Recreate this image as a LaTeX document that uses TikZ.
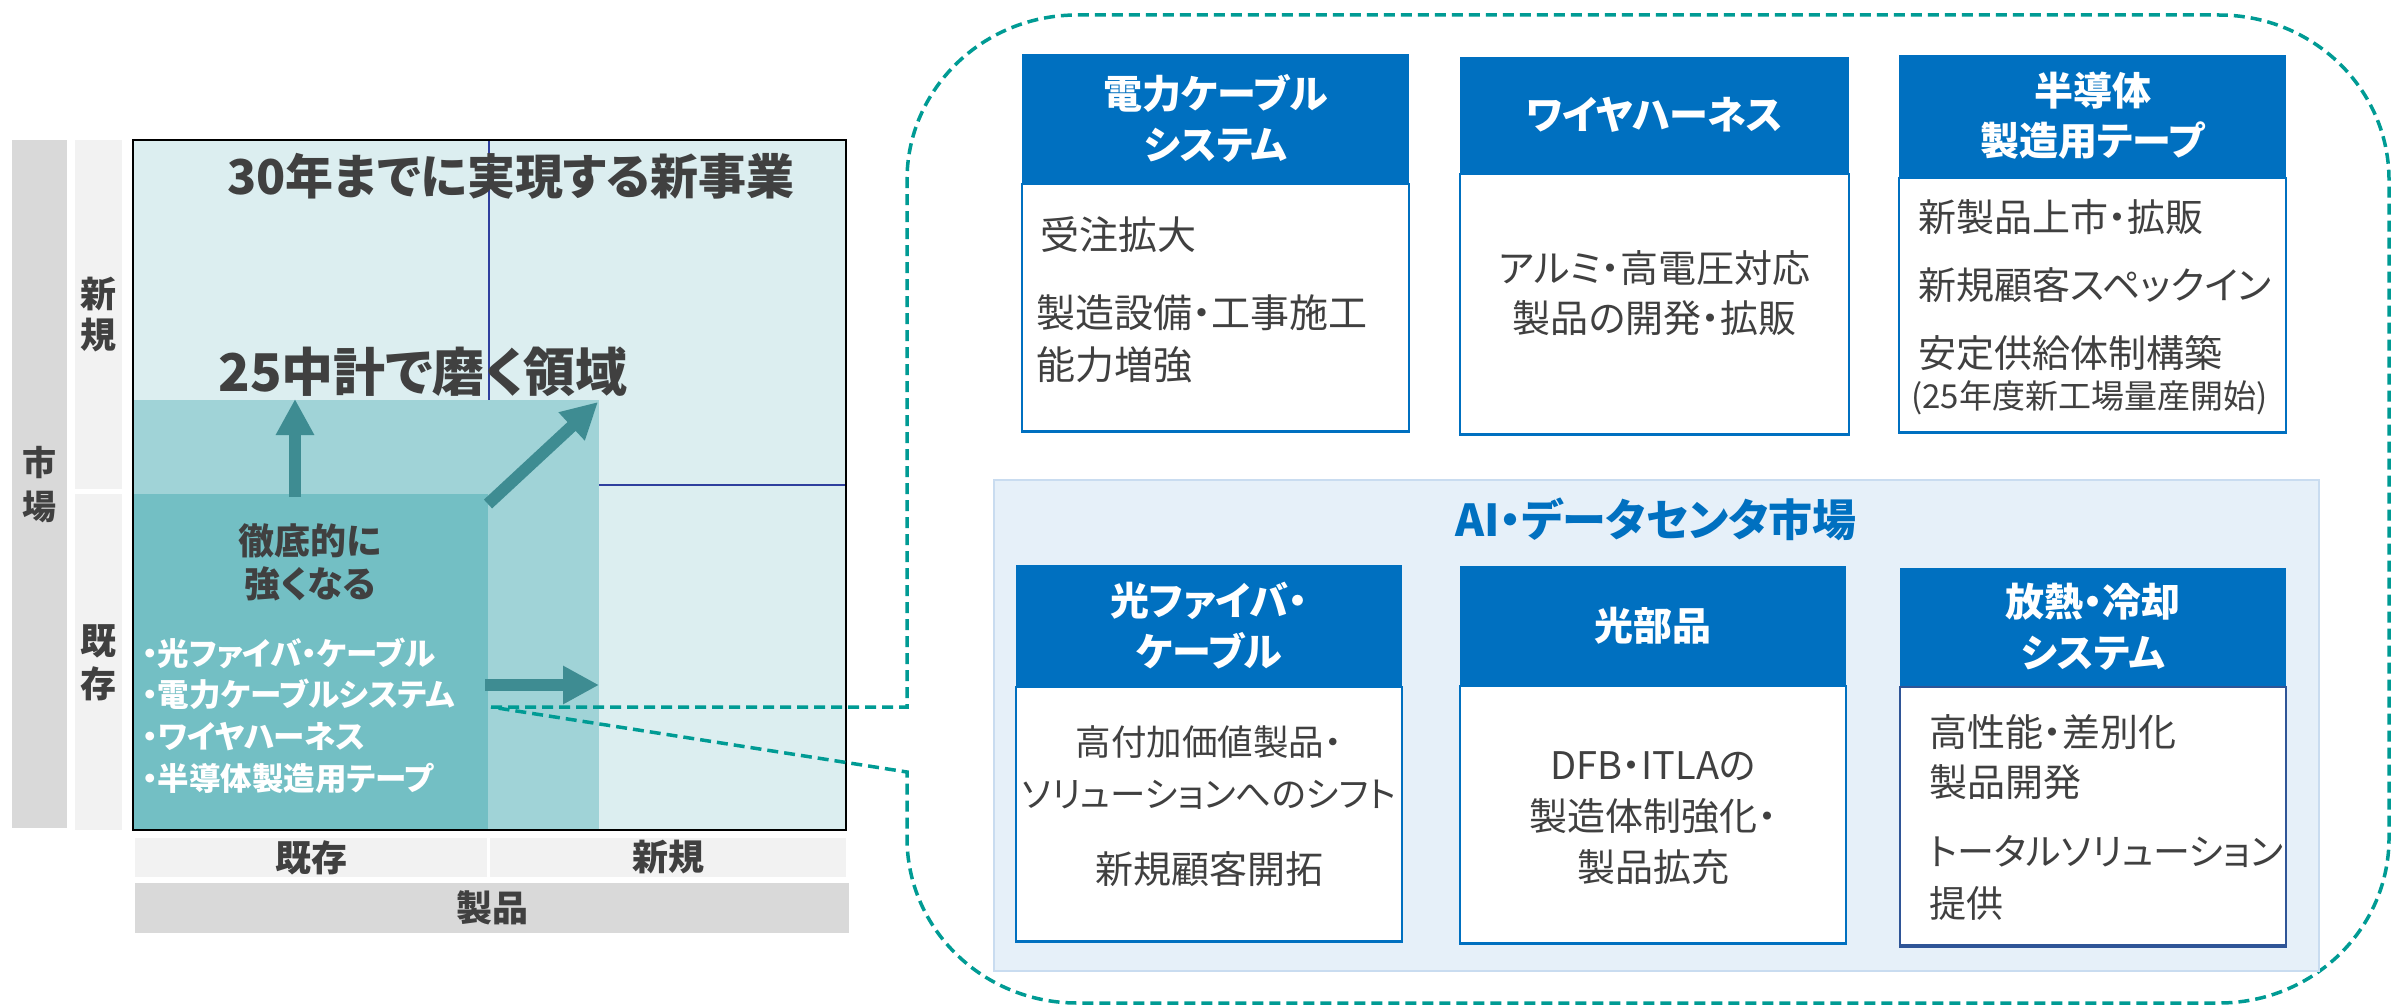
\documentclass[tikz,border=0pt]{standalone}
\usepackage{fontspec}
\setmainfont{Noto Sans CJK JP}[RawFeature={+palt}]
\usetikzlibrary{arrows.meta}
\definecolor{lightbg}{HTML}{DCEEF0}
\definecolor{midteal}{HTML}{A0D3D7}
\definecolor{darkteal}{HTML}{73BFC4}
\definecolor{arrowc}{HTML}{3E8C92}
\definecolor{txtgray}{HTML}{404040}
\definecolor{grayA}{HTML}{D9D9D9}
\definecolor{grayB}{HTML}{F2F2F2}
\definecolor{divider}{HTML}{2F3F9E}
\definecolor{dashc}{HTML}{009B94}
\definecolor{hblue}{HTML}{0070C0}
\definecolor{panelc}{HTML}{E6F0F9}
\definecolor{panelb}{HTML}{C9DCF0}
\definecolor{navyb}{HTML}{2F5597}
\begin{document}
\begin{tikzpicture}[x=1pt,y=1pt,
  lab/.style={inner sep=0pt, text=txtgray, font=\fontsize{36}{40}\selectfont\bfseries},
  vlab/.style={inner sep=0pt, text=txtgray, align=center},
  bigarrow/.style={draw=arrowc, line width=12pt, -{Triangle[width=36pt,length=36pt]}},
  callout/.style={draw=dashc, line width=3.5pt, dash pattern=on 11pt off 6pt},
  hdr/.style={fill=hblue, text=white, inner sep=0pt, align=center, font=\fontsize{39}{51}\selectfont\bfseries},
  bodyb/.style={draw=hblue, fill=white, line width=1.5pt, inner sep=0pt},
  botline/.style={draw=hblue, line width=3.5pt},
  btxt/.style={text=txtgray, inner sep=0pt, font=\fontsize{38}{52}\selectfont},
]
\useasboundingbox (0,0) rectangle (2392,-1006);
\fill[white] (0,0) rectangle (2392,-1006);

% ---------- left matrix ----------
\fill[grayA] (12,-140) rectangle (67,-828);
\fill[grayB] (75,-140) rectangle (122,-489);
\fill[grayB] (75,-494) rectangle (122,-830);
\fill[lightbg] (133,-140) rectangle (846,-830);
\draw[divider, line width=1.2pt] (489,-140) -- (489,-400);
\draw[divider, line width=1.2pt] (599,-485) -- (846,-485);
\fill[midteal] (133,-400) rectangle (599,-830);
\fill[darkteal] (133,-494) rectangle (488,-830);
\draw[black, line width=2pt] (133,-140) rectangle (846,-830);

\node[vlab, font=\fontsize{34}{44}\selectfont\bfseries] (mkt) at (39.5,-485) {市\\場};
\node[vlab, font=\fontsize{36}{41}\selectfont\bfseries] (mnew) at (98.5,-315) {新\\規};
\node[vlab, font=\fontsize{36}{43}\selectfont\bfseries] (mold) at (98.5,-663) {既\\存};

\node[lab, fill=grayB, minimum width=352pt, minimum height=39pt] (pold) at (311,-857.5) {既存};
\node[lab, fill=grayB, minimum width=356pt, minimum height=39pt] (pnew) at (668,-857.5) {新規};
\node[lab, fill=grayA, minimum width=714pt, minimum height=50pt] (prod) at (492,-908) {製品};

\node[inner sep=0pt, text=txtgray, font=\fontsize{48}{52}\selectfont\bfseries] (t30) at (511,-176) {30年までに実現する新事業};
\node[inner sep=0pt, text=txtgray, font=\fontsize{52}{56}\selectfont\bfseries] (t25) at (423,-372) {25中計で磨く領域};
\node[inner sep=0pt, text=txtgray, align=center, font=\fontsize{36}{43}\selectfont\bfseries] (strong) at (310,-562) {徹底的に\\強くなる};
\node[inner sep=0pt, text=white, align=left, anchor=west, font=\fontsize{31.5}{41.7}\selectfont\bfseries] (list) at (142,-715.5) {・光ファイバ・ケーブル\\・電力ケーブルシステム\\・ワイヤハーネス\\・半導体製造用テープ};

\coordinate (u1) at (295,-497);
\coordinate (u2) at (295,-399);
\coordinate (d1) at (488,-504);
\coordinate (d2) at (598,-402);
\coordinate (r1) at (485,-685);
\coordinate (r2) at (599,-685);
\draw[bigarrow] (u1) -- (u2);
\draw[bigarrow] (d1) -- (d2);
\draw[bigarrow] (r1) -- (r2);

% ---------- callout ----------
\coordinate (src) at (491,-707);
\draw[callout] (src) -- (907,-707) -- (907,-180)
  arc[start angle=180, end angle=90, x radius=170, y radius=165] -- (2219,-15)
  arc[start angle=90, end angle=0, x radius=170, y radius=165] -- (2389,-838)
  arc[start angle=0, end angle=-90, x radius=170, y radius=165] -- (1077,-1003)
  arc[start angle=270, end angle=180, x radius=170, y radius=165] -- (907,-772) -- (src);

% ---------- lower panel ----------
\node[fill=panelc, draw=panelb, line width=1.5pt, inner sep=0pt, minimum width=1325pt, minimum height=491pt] (panel) at (1656.5,-725.5) {};
\node[inner sep=0pt, text=hblue, font=\fontsize{44}{48}\selectfont\bfseries] (ai) at (1656,-519) {AI・データセンタ市場};

% ---------- top boxes ----------
\node[hdr, minimum width=387pt, minimum height=129pt] (h1) at (1215.5,-118.5) {電力ケーブル\\システム};
\node[bodyb, anchor=north, minimum width=387pt, minimum height=247pt] (b1) at (h1.south) {};
\draw[botline] (b1.south west) -- (b1.south east);
\node[btxt, anchor=west, font=\fontsize{39}{52}\selectfont] (b1a) at (1040,-235) {受注拡大};
\node[btxt, anchor=west, align=left, font=\fontsize{39}{52}\selectfont] (b1b) at (1036,-339) {製造設備・工事施工\\能力増強};

\node[hdr, minimum width=389pt, minimum height=116pt] (h2) at (1654.5,-115) {ワイヤハーネス};
\node[bodyb, anchor=north, minimum width=389pt, minimum height=260pt] (b2) at (h2.south) {};
\draw[botline] (b2.south west) -- (b2.south east);
\node[btxt, align=center, font=\fontsize{38}{50}\selectfont] (b2a) at (1654.5,-293) {アルミ・高電圧対応\\製品の開発・拡販};

\node[hdr, minimum width=387pt, minimum height=122pt, font=\fontsize{39}{50}\selectfont\bfseries] (h3) at (2092.5,-116) {半導体\\製造用テープ};
\node[bodyb, anchor=north, minimum width=387pt, minimum height=254pt] (b3) at (h3.south) {};
\draw[botline] (b3.south west) -- (b3.south east);
\node[btxt, anchor=west] (b3a) at (1918,-217) {新製品上市・拡販};
\node[btxt, anchor=west] (b3b) at (1918,-285) {新規顧客スペックイン};
\node[btxt, anchor=west] (b3c) at (1918,-353) {安定供給体制構築};
\node[btxt, anchor=west, font=\fontsize{33}{36}\selectfont] (b3d) at (1911,-398) {(25年度新工場量産開始)};

% ---------- lower boxes ----------
\node[hdr, minimum width=386pt, minimum height=121pt] (h4) at (1209,-625.5) {光ファイバ・\\ケーブル};
\node[bodyb, anchor=north, minimum width=386pt, minimum height=254pt] (b4) at (h4.south) {};
\draw[botline] (b4.south west) -- (b4.south east);
\node[btxt, align=center, font=\fontsize{35.5}{52}\selectfont] (b4a) at (1209,-768) {高付加価値製品・\\ソリューションへのシフト};
\node[btxt] (b4b) at (1209,-869) {新規顧客開拓};

\node[hdr, minimum width=386pt, minimum height=119pt] (h5) at (1653,-625.5) {光部品};
\node[bodyb, anchor=north, minimum width=386pt, minimum height=257pt] (b5) at (h5.south) {};
\draw[botline] (b5.south west) -- (b5.south east);
\node[btxt, align=center, font=\fontsize{38}{51}\selectfont] (b5a) at (1653,-818) {DFB・ITLAの\\製造体制強化・\\製品拡充};

\node[hdr, minimum width=386pt, minimum height=118pt] (h6) at (2093,-627) {放熱・冷却\\システム};
\node[bodyb, draw=navyb, line width=2pt, anchor=north, minimum width=386pt, minimum height=258pt] (b6) at (h6.south) {};
\draw[botline, draw=navyb] (b6.south west) -- (b6.south east);
\node[btxt, anchor=west, align=left, font=\fontsize{38}{50}\selectfont] (b6a) at (1929,-757) {高性能・差別化\\製品開発};
\node[btxt, anchor=west, align=left, font=\fontsize{37}{52}\selectfont] (b6b) at (1929,-878) {トータルソリューション\\提供};
\end{tikzpicture}
\end{document}
